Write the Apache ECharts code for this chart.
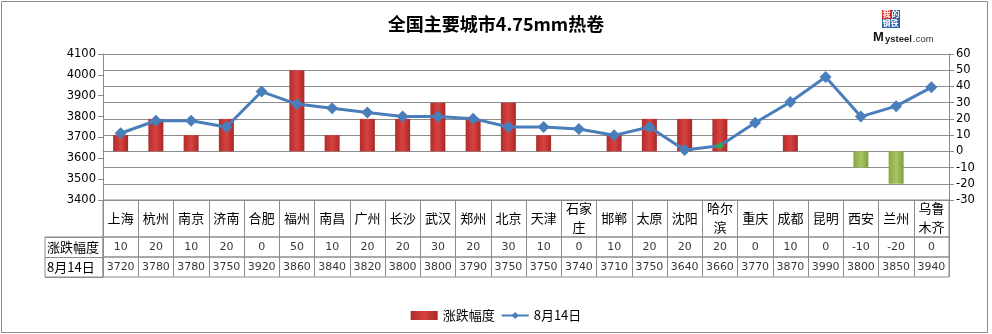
<!DOCTYPE html>
<html><head><meta charset="utf-8">
<script src="https://cdn.jsdelivr.net/npm/echarts@6/dist/echarts.min.js"></script>
<style>html,body{margin:0;padding:0;background:#fff}#c{width:992px;height:334px}</style>
</head><body><div id="c"></div>
<script>
const cities = ['上海','杭州','南京','济南','合肥','福州','南昌','广州','长沙','武汉','郑州','北京','天津','石家庄','邯郸','太原','沈阳','哈尔滨','重庆','成都','昆明','西安','兰州','乌鲁木齐'];
const changes = [10,20,10,20,0,50,10,20,20,30,20,30,10,0,10,20,20,20,0,10,0,-10,-20,0];
const prices = [3720,3780,3780,3750,3920,3860,3840,3820,3800,3800,3790,3750,3750,3740,3710,3750,3640,3660,3770,3870,3990,3800,3850,3940];
const rowHeaders = ['涨跌幅度','8月14日'];
const seriesNames = ['涨跌幅度','8月14日'];
const titleText = '全国主要城市4.75mm热卷';
const highlightCity = '哈尔滨';

const gray = '#8c8c8c';
const num = 'DejaVu Sans';
const cjk = 'Noto Sans CJK SC';
const redGrad = new echarts.graphic.LinearGradient(0,0,1,0,[{offset:0,color:'#b02d2b'},{offset:0.5,color:'#d8423f'},{offset:1,color:'#a92927'}]);
const greenGrad = new echarts.graphic.LinearGradient(0,0,1,0,[{offset:0,color:'#86a845'},{offset:0.5,color:'#a6c763'},{offset:1,color:'#7f9f3f'}]);
const wrap = n => n.length > 2 ? n.slice(0,2) + '\n' + n.slice(2) : n;
const hideAxis = {axisLine:{show:false},axisTick:{show:false,interval:0},axisLabel:{show:false,interval:0}};
const tableX = gi => Object.assign({type:'category',gridIndex:gi,data:cities,boundaryGap:true,splitLine:{show:true,interval:0,lineStyle:{color:gray}}}, hideAxis);
const hiddenY = gi => ({type:'value',gridIndex:gi,min:0,max:1,show:false});

const chart = echarts.init(document.getElementById('c'));
chart.setOption({
  animation:false,
  title:{text:titleText,left:'center',top:10,textStyle:{fontSize:18,fontWeight:'bold',fontFamily:cjk,color:'#000'}},
  legend:{data:[{name:seriesNames[0],icon:'rect',itemStyle:{color:redGrad}},{name:seriesNames[1]}],left:'center',top:304,itemWidth:27,itemHeight:9,itemGap:6,
    textStyle:{fontSize:13,fontFamily:cjk,color:'#000'}},
  grid:[
    {left:103,top:54,width:846,height:146},
    {left:103,top:200,width:846,height:37,show:true,borderColor:gray,borderWidth:1},
    {left:103,top:237,width:846,height:20,show:true,borderColor:gray,borderWidth:1},
    {left:103,top:257,width:846,height:20,show:true,borderColor:gray,borderWidth:1},
    {left:45,top:237,width:58,height:40,show:true,borderColor:gray,borderWidth:1}
  ],
  xAxis:[
    {type:'category',gridIndex:0,data:cities,boundaryGap:true,axisLine:{lineStyle:{color:gray}},axisTick:{show:false},
      axisLabel:{formatter:wrap,margin:18,verticalAlign:'middle',lineHeight:19,fontSize:13,fontFamily:cjk,color:'#000',interval:0}},
    tableX(1), tableX(2), tableX(3),
    {type:'value',gridIndex:4,min:0,max:1,show:false}
  ],
  yAxis:[
    {type:'value',gridIndex:0,position:'left',min:3400,max:4100,interval:100,splitLine:{show:false},
      axisLine:{show:true,lineStyle:{color:gray}},axisTick:{show:true,length:5,lineStyle:{color:gray}},
      axisLabel:{margin:7,fontSize:11.5,fontFamily:num,color:'#000',formatter:v => String(v)}},
    {type:'value',gridIndex:0,position:'right',min:-30,max:60,interval:10,splitLine:{show:true,lineStyle:{color:gray}},
      axisLine:{show:true,lineStyle:{color:gray}},axisTick:{show:true,length:5,lineStyle:{color:gray}},
      axisLabel:{margin:7,fontSize:11.5,fontFamily:num,color:'#000',formatter:v => String(v)}},
    hiddenY(1), hiddenY(2), hiddenY(3),
    {type:'category',gridIndex:4,data:rowHeaders,inverse:true,axisLine:{show:false},axisTick:{show:false},
      splitLine:{show:true,interval:0,lineStyle:{color:gray}},
      axisLabel:{inside:true,margin:2,fontSize:13,fontFamily:cjk,color:'#000'}}
  ],
  series:[
    {name:seriesNames[0],type:'bar',xAxisIndex:0,yAxisIndex:1,barWidth:15,data:changes,
      itemStyle:{color:p => p.value < 0 ? greenGrad : redGrad}},
    {name:seriesNames[1],type:'line',xAxisIndex:0,yAxisIndex:0,symbol:'diamond',symbolSize:12,
      lineStyle:{width:3,color:'#4a7ebb'},itemStyle:{color:'#4a7ebb'},
      data:prices.map((v,i) => cities[i] === highlightCity ? {value:v,symbolSize:8,itemStyle:{color:'#2fa84f'}} : v)},
    {type:'scatter',xAxisIndex:2,yAxisIndex:3,symbolSize:0,silent:true,
      data:changes.map((v,i)=>[cities[i],0.5,v]),
      label:{show:true,position:'inside',formatter:p=>String(p.value[2]),fontSize:11,fontFamily:num,color:'#000'}},
    {type:'scatter',xAxisIndex:3,yAxisIndex:4,symbolSize:0,silent:true,
      data:prices.map((v,i)=>[cities[i],0.5,v]),
      label:{show:true,position:'inside',formatter:p=>String(p.value[2]),fontSize:11,fontFamily:num,color:'#000'}}
  ],
  graphic:[
    {type:'rect',shape:{x:1.5,y:1.5,width:986,height:331},style:{fill:'none',stroke:gray,lineWidth:1},silent:true,z:-1},
    {type:'group',left:873,top:10,children:[
      {type:'rect',shape:{x:9,y:0,width:9,height:9},style:{fill:'#d9241c'}},
      {type:'text',x:9.5,y:0,style:{text:'我',fill:'#fff',fontSize:8,fontFamily:cjk,fontWeight:'bold'}},
      {type:'rect',shape:{x:18,y:0,width:9,height:9},style:{fill:'#2a5fa8'}},
      {type:'text',x:18.5,y:0,style:{text:'的',fill:'#fff',fontSize:8,fontFamily:cjk,fontWeight:'bold'}},
      {type:'rect',shape:{x:9,y:9,width:18,height:9},style:{fill:'#2a5fa8'}},
      {type:'text',x:9.5,y:9,style:{text:'钢铁',fill:'#fff',fontSize:8,fontFamily:cjk,fontWeight:'bold'}},
      {type:'text',x:0,y:21,style:{text:'M',fill:'#111',fontSize:13,fontFamily:'Liberation Sans',fontWeight:'bold'}},
      {type:'text',x:12,y:24,style:{text:'ysteel',fill:'#222',fontSize:9.5,fontFamily:'Liberation Sans',fontWeight:'bold'}},
      {type:'text',x:40,y:24,style:{text:'.com',fill:'#333',fontSize:9.5,fontFamily:'Liberation Sans'}}
    ]}
  ]
});
</script></body></html>
